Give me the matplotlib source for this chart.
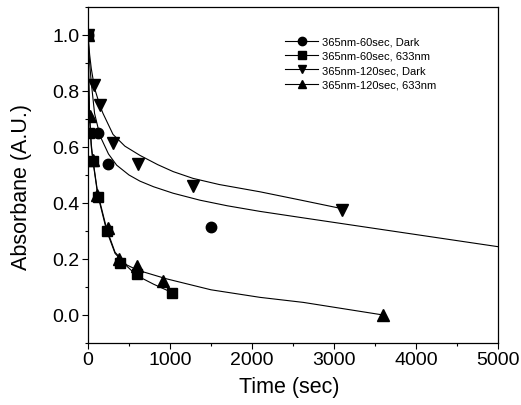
import matplotlib
matplotlib.use("Agg")
import matplotlib.pyplot as plt
from matplotlib.ticker import MultipleLocator, FormatStrFormatter
from matplotlib import font_manager

# Measured absorbance decay
t_dark60 = [0, 120, 240, 1500]
a_dark60 = [1.0, 0.65, 0.54, 0.315]

t_red60 = [0, 15, 60, 120, 235, 390, 600, 1025]
a_red60 = [1.0, 0.65, 0.55, 0.42, 0.30, 0.185, 0.145, 0.08]

t_dark120 = [0, 75, 150, 305, 610, 1280, 3100]
a_dark120 = [1.0, 0.82, 0.75, 0.615, 0.54, 0.46, 0.375]

t_red120 = [0, 20, 60, 115, 248, 375, 602, 910, 3600]
a_red120 = [1.0, 0.71, 0.555, 0.43, 0.31, 0.20, 0.175, 0.122, 0.0]

# Fitted decay curves
fit_t_dark60 = [0, 20, 40, 80, 146, 250, 350, 500, 634, 800, 1037, 1366,
                1700, 2098, 2600, 3545, 5000]
fit_a_dark60 = [1.0, 0.9, 0.83, 0.72, 0.64, 0.575, 0.535, 0.5, 0.478, 0.458,
                0.435, 0.41, 0.39, 0.37, 0.348, 0.307, 0.244]

fit_t_dark120 = [0, 20, 40, 80, 146, 183, 305, 450, 634, 850, 1040, 1280,
                 1600, 2098, 2600, 3094]
fit_a_dark120 = [1.0, 0.93, 0.88, 0.81, 0.747, 0.72, 0.645, 0.603, 0.57,
                 0.537, 0.512, 0.488, 0.466, 0.44, 0.41, 0.38]

fit_t_red60 = [0, 10, 20, 40, 60, 118, 228, 330, 472, 594, 800, 1025]
fit_a_red60 = [1.0, 0.82, 0.7, 0.6, 0.55, 0.43, 0.30, 0.22, 0.175, 0.141, 0.11, 0.08]

fit_t_red120 = [0, 10, 20, 40, 60, 118, 228, 330, 472, 606, 960, 1500, 2098,
                2626, 3600]
fit_a_red120 = [1.0, 0.82, 0.71, 0.61, 0.555, 0.436, 0.307, 0.224, 0.179,
                0.16, 0.129, 0.09, 0.063, 0.045, 0.0]

labels = ["365nm-60sec, Dark", "365nm-60sec, 633nm",
          "365nm-120sec, Dark", "365nm-120sec, 633nm"]

x_ticks = [0, 1000, 2000, 3000, 4000, 5000]
y_ticks = [0.0, 0.2, 0.4, 0.6, 0.8, 1.0]

plt.rcParams['font.family'] = ['Liberation Sans', 'DejaVu Sans']

fig = plt.figure(figsize=(5.21, 4.06), dpi=100)
ax = fig.add_axes([88 / 521, 1 - 344 / 406, 410 / 521, 336 / 406])

lw = 0.8
for ft, fa in [(fit_t_dark60, fit_a_dark60), (fit_t_dark120, fit_a_dark120),
               (fit_t_red60, fit_a_red60), (fit_t_red120, fit_a_red120)]:
    ax.plot(ft, fa, color='black', lw=lw, zorder=2)

series = [(t_dark60, a_dark60, 'o', 7.5), (t_red60, a_red60, 's', 6.5),
          (t_dark120, a_dark120, 'v', 8), (t_red120, a_red120, '^', 8)]
handles = []
for (tt, aa, m, ms), lab in zip(series, labels):
    ax.plot(tt, aa, linestyle='none', marker=m, ms=ms, color='black', zorder=3)
    h, = ax.plot([], [], color='black', lw=lw, marker=m, ms=ms * 0.8, label=lab)
    handles.append(h)

ax.set_xlim(0, 5000)
ax.set_ylim(-0.1, 1.1)
ax.set_xticks(x_ticks)
ax.set_yticks(y_ticks)
ax.xaxis.set_minor_locator(MultipleLocator(500))
ax.yaxis.set_minor_locator(MultipleLocator(0.1))
ax.yaxis.set_major_formatter(FormatStrFormatter('%.1f'))
ax.tick_params(which='major', direction='out', length=4, width=0.8,
               labelsize=14, pad=2, top=False, right=False)
ax.tick_params(which='minor', direction='out', length=2.5, width=0.8,
               top=False, right=False)
for s in ax.spines.values():
    s.set_linewidth(0.9)

ax.set_xlabel("Time (sec)", fontsize=15.5)
ax.xaxis.set_label_coords(0.49, -0.098)
ax.set_ylabel("Absorbane (A.U.)", fontsize=15.5)
ax.yaxis.set_label_coords(-0.137, 0.468)

narrow = ['Liberation Sans Narrow', 'Liberation Sans', 'DejaVu Sans']
leg = ax.legend(handles=handles, loc='upper left', bbox_to_anchor=(0.456, 0.942),
                frameon=False, handlelength=3.0, handletextpad=0.35,
                labelspacing=0.4, borderpad=0.4,
                prop=font_manager.FontProperties(family=narrow, size=8))

fig.savefig("out.png", dpi=100)
